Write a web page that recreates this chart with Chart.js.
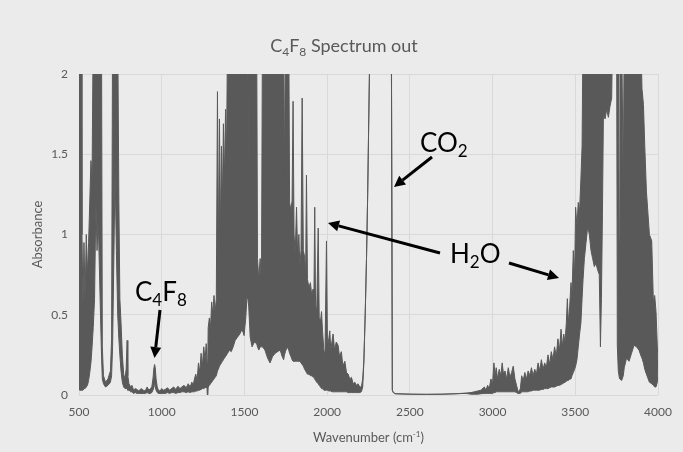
<!DOCTYPE html>
<html>
<head>
<meta charset="utf-8">
<title>C4F8 Spectrum out</title>
<script src="https://cdn.jsdelivr.net/npm/chart.js@4.4.0/dist/chart.umd.min.js"></script>
<style>
  html, body { margin: 0; padding: 0; background: #ffffff; }
  #wrap { width: 683px; height: 452px; }
</style>
</head>
<body>
<div id="wrap"><canvas id="spectrumChart" width="683" height="452"></canvas></div>
<script>
// x ticks and y ticks
const xTicks = [500, 1000, 1500, 2000, 2500, 3000, 3500, 4000];
const yTicks = [0, 0.5, 1, 1.5, 2];

// spectrum: for each wavenumber the top and the bottom of the trace
// (the trace is so dense there that it reads as a band; values above 2 are off scale)
const wavenumber = [
  500, 506, 513, 518, 524, 530, 537, 544, 551, 558, 565, 572, 579, 586, 594, 602, 609, 616, 623, 630, 636, 641, 648, 660, 675, 690, 697,
  703, 710, 718, 726, 734, 741, 747, 754, 762, 770, 778, 785, 791, 795, 802,
  812, 820, 830, 840, 850, 862, 875, 888, 900, 912, 922, 932, 940, 947, 953, 957, 961, 966, 973, 980, 990,
  1000, 1010, 1022, 1035, 1048, 1060, 1072, 1085, 1098, 1110, 1122, 1135, 1148, 1160, 1172, 1182, 1190,
  1198, 1206, 1214, 1222, 1230, 1238, 1246, 1254, 1262, 1269, 1274, 1277, 1281, 1288, 1295, 1302, 1309, 1316, 1323, 1330,
  1337, 1342, 1349, 1355, 1361, 1367, 1373, 1379, 1386, 1392, 1398, 1410, 1420, 1432, 1444, 1458, 1472, 1486, 1498,
  1508, 1516, 1521, 1526, 1535, 1546, 1560, 1574, 1579, 1587, 1595, 1603, 1609, 1624, 1640, 1655, 1670, 1686, 1700,
  1716, 1728, 1737, 1742, 1748, 1758, 1768, 1773, 1781, 1788, 1794, 1800, 1807, 1815, 1822, 1829, 1835, 1842, 1849,
  1856, 1864, 1870, 1875, 1881, 1890, 1899, 1907, 1915, 1920, 1925, 1930, 1937, 1946, 1952, 1960, 1966, 1972, 1980,
  1987, 1996, 2002, 2010, 2016, 2022, 2030, 2036, 2045, 2055, 2066, 2075, 2086, 2095, 2107, 2117, 2127, 2137, 2147,
  2157, 2167, 2177, 2187, 2197, 2207, 2215, 2222, 2230, 2238, 2245, 2252, 2260, 2388, 2392, 2394, 2400, 2412,
  2500, 2600, 2700, 2780, 2840, 2870, 2890, 2910, 2930, 2950, 2960, 2970, 2980, 2990, 3000, 3008, 3015, 3022, 3030,
  3040, 3050, 3058, 3066, 3075, 3085, 3095, 3105, 3115, 3125, 3135, 3145, 3152, 3160, 3168, 3176, 3185, 3195, 3205,
  3215, 3225, 3235, 3245, 3255, 3265, 3275, 3285, 3295, 3305, 3315, 3325, 3335, 3345, 3355, 3365, 3375, 3385, 3395,
  3405, 3414, 3422, 3430, 3438, 3446, 3452, 3458, 3466, 3474, 3480, 3488, 3496, 3502, 3510, 3518, 3526, 3534, 3541,
  3547, 3555, 3565, 3575, 3585, 3595, 3605, 3615, 3625, 3635, 3645, 3652, 3658, 3664, 3670, 3680, 3690, 3700, 3710,
  3720, 3726, 3750, 3754, 3760, 3766, 3770, 3780, 3790, 3796, 3810, 3825, 3840, 3855, 3870, 3885, 3895, 3903, 3912,
  3920, 3930, 3948, 3962, 3972, 3980, 3988, 3996, 4000
];
const absTop = [
  2.3, 2.3, 2.3, 1.0, 0.55, 0.95, 0.6, 1.0, 0.75, 0.95, 1.2, 1.46, 1.35, 2.3, 2.3, 2.3, 2.3, 2.3, 2.3, 2.3, 2.3, 0.3, 0.12, 0.08, 0.1, 0.15, 0.35,
  2.3, 2.3, 2.3, 2.3, 2.3, 1.2, 0.6, 0.45, 0.25, 0.13, 0.1, 0.16, 0.34, 0.12, 0.07,
  0.05, 0.06, 0.03, 0.04, 0.035, 0.025, 0.04, 0.03, 0.025, 0.05, 0.03, 0.04, 0.05, 0.1, 0.17, 0.19, 0.17, 0.1, 0.05, 0.03, 0.025,
  0.04, 0.03, 0.035, 0.045, 0.03, 0.04, 0.05, 0.035, 0.055, 0.04, 0.05, 0.06, 0.045, 0.07, 0.05, 0.08, 0.06,
  0.1, 0.13, 0.09, 0.2, 0.14, 0.26, 0.18, 0.3, 0.22, 0.32, 0.2, 0.1, 0.42, 0.48, 0.42, 0.58, 0.5, 0.62, 0.52, 0.6,
  1.89, 0.85, 1.72, 1.0, 1.55, 1.2, 1.69, 1.35, 1.78, 1.5, 2.3, 2.3, 2.3, 2.3, 2.3, 2.3, 2.3, 2.3, 2.3,
  2.3, 2.3, 1.1, 2.3, 2.3, 2.3, 2.3, 2.3, 0.85, 0.72, 0.85, 0.7, 2.3, 2.3, 2.3, 2.3, 2.3, 2.3, 2.3,
  2.3, 2.3, 2.3, 1.35, 2.3, 2.3, 2.3, 1.2, 1.15, 1.21, 1.83, 1.0, 0.88, 1.17, 0.85, 1.0, 0.8, 0.9, 1.85,
  0.9, 0.86, 0.75, 1.37, 0.72, 0.67, 0.7, 0.62, 0.66, 0.6, 1.17, 0.56, 0.52, 1.04, 0.48, 0.46, 0.52, 0.4, 0.28,
  0.25, 0.96, 0.3, 0.35, 0.4, 0.28, 0.34, 0.38, 0.28, 0.33, 0.31, 0.24, 0.27, 0.18, 0.21, 0.14, 0.13, 0.1, 0.11,
  0.07, 0.08, 0.06, 0.07, 0.05, 0.05, 0.1, 0.22, 0.5, 0.85, 1.25, 1.75, 2.3, 2.3, 2.3, 0.03, 0.015, 0.008,
  0.005, 0.004, 0.005, 0.008, 0.012, 0.015, 0.02, 0.025, 0.03, 0.05, 0.03, 0.06, 0.04, 0.1, 0.07, 0.2, 0.12, 0.17, 0.1,
  0.16, 0.12, 0.2, 0.13, 0.15, 0.1, 0.17, 0.11, 0.14, 0.18, 0.1, 0.06, 0.03, 0.02, 0.04, 0.12, 0.09, 0.14, 0.1,
  0.15, 0.12, 0.17, 0.12, 0.16, 0.13, 0.2, 0.15, 0.22, 0.16, 0.2, 0.17, 0.25, 0.19, 0.27, 0.22, 0.3, 0.24, 0.35,
  0.28, 0.41, 0.3, 0.38, 0.33, 0.45, 0.6, 0.45, 0.55, 0.7, 0.62, 0.9, 0.75, 1.17, 1.05, 1.2, 1.15, 1.35, 1.55,
  2.3, 2.3, 2.3, 2.3, 2.3, 2.3, 2.3, 2.3, 2.3, 2.3, 2.3, 2.3, 2.3, 2.3, 2.3, 2.3, 2.3, 2.3, 2.3,
  2.3, 2.3, 2.3, 2.3, 2.3, 0.96, 2.3, 2.3, 1.3, 2.3, 2.3, 2.3, 2.3, 2.3, 2.3, 2.3, 2.3, 1.91, 1.81,
  1.55, 1.27, 1.0, 0.96, 0.58, 0.62, 0.52, 0.3, 0.21
];
const absBottom = [
  0.05, 0.03, 0.03, 0.03, 0.03, 0.04, 0.04, 0.05, 0.06, 0.09, 0.14, 0.2, 0.3, 0.42, 0.6, 1.2, 0.9, 1.1, 0.8, 0.5, 0.25, 0.1, 0.07, 0.05, 0.06, 0.08, 0.12,
  0.3, 0.8, 1.4, 0.9, 0.5, 0.35, 0.25, 0.15, 0.08, 0.05, 0.04, 0.04, 0.04, 0.03, 0.03,
  0.02, 0.02, 0.01, 0.015, 0.01, 0.01, 0.01, 0.01, 0.01, 0.015, 0.01, 0.01, 0.015, 0.03, 0.05, 0.08, 0.05, 0.03, 0.015, 0.01, 0.01,
  0.01, 0.01, 0.01, 0.015, 0.01, 0.015, 0.015, 0.01, 0.015, 0.015, 0.02, 0.02, 0.015, 0.02, 0.015, 0.02, 0.02,
  0.02, 0.025, 0.025, 0.03, 0.03, 0.035, 0.04, 0.04, 0.045, 0.05, 0.04, -0.03, 0.05, 0.06, 0.07, 0.08, 0.09, 0.1, 0.11, 0.12,
  0.15, 0.16, 0.18, 0.19, 0.2, 0.21, 0.22, 0.23, 0.24, 0.25, 0.26, 0.28, 0.27, 0.3, 0.34, 0.36, 0.38, 0.41, 0.37,
  0.48, 0.62, 0.6, 0.55, 0.36, 0.3, 0.33, 0.32, 0.3, 0.28, 0.3, 0.3, 0.3, 0.28, 0.23, 0.2, 0.24, 0.26, 0.27,
  0.28, 0.24, 0.22, 0.25, 0.27, 0.3, 0.28, 0.26, 0.24, 0.22, 0.21, 0.21, 0.21, 0.21, 0.21, 0.21, 0.21, 0.2, 0.19,
  0.18, 0.16, 0.15, 0.14, 0.13, 0.13, 0.12, 0.12, 0.11, 0.11, 0.1, 0.09, 0.08, 0.07, 0.06, 0.05, 0.04, 0.04, 0.03,
  0.03, 0.03, 0.03, 0.025, 0.025, 0.025, 0.02, 0.02, 0.02, 0.02, 0.02, 0.02, 0.02, 0.02, 0.02, 0.02, 0.015, 0.015, 0.015,
  0.015, 0.015, 0.015, 0.015, 0.015, 0.02, 0.05, 0.2, 0.5, 0.85, 1.25, 1.75, 2.3, 2.3, 2.3, 0.03, 0.015, 0.008,
  0.005, 0.004, 0.005, 0.008, 0.01, 0.005, 0.005, 0.005, 0.008, 0.01, 0.01, 0.01, 0.01, 0.01, 0.01, 0.015, 0.015, 0.02, 0.02,
  0.02, 0.02, 0.02, 0.02, 0.02, 0.02, 0.02, 0.02, 0.02, 0.02, 0.02, 0.015, 0.01, 0.01, 0.01, 0.02, 0.02, 0.02, 0.02,
  0.02, 0.025, 0.025, 0.03, 0.03, 0.03, 0.03, 0.03, 0.035, 0.035, 0.04, 0.04, 0.04, 0.045, 0.05, 0.05, 0.05, 0.055, 0.06,
  0.06, 0.065, 0.07, 0.075, 0.08, 0.085, 0.09, 0.09, 0.1, 0.1, 0.12, 0.14, 0.16, 0.18, 0.22, 0.3, 0.38, 0.45, 0.6,
  0.72, 0.85, 0.95, 1.05, 1.0, 0.9, 0.85, 0.8, 0.82, 0.78, 0.75, 0.3, 0.6, 1.12, 1.75, 1.72, 1.78, 1.73, 1.8,
  1.85, 2.3, 2.3, 0.31, 0.15, 0.11, 0.1, 0.09, 0.12, 0.17, 0.23, 0.21, 0.26, 0.31, 0.3, 0.28, 0.25, 0.23, 0.2,
  0.16, 0.13, 0.08, 0.07, 0.06, 0.05, 0.05, 0.08, 0.17
];

const traceColor = '#595959';
const textGray = '#595959';
const fontFamily = 'Lato, "Liberation Sans", sans-serif';

// draw a run of text pieces; kind 0 normal, 1 subscript, 2 superscript
function drawRichText(ctx, pieces, x, y, size, color, align) {
  const small = Math.round(size * 0.65);
  let total = 0;
  pieces.forEach(p => {
    ctx.font = (p[1] ? small : size) + 'px ' + fontFamily;
    total += ctx.measureText(p[0]).width;
  });
  let cx = align === 'center' ? x - total / 2 : x;
  ctx.fillStyle = color;
  ctx.textBaseline = 'alphabetic';
  ctx.textAlign = 'left';
  pieces.forEach(p => {
    ctx.font = (p[1] ? small : size) + 'px ' + fontFamily;
    let dy = 0;
    if (p[1] === 1) dy = size * 0.2;
    if (p[1] === 2) dy = -size * 0.38;
    ctx.fillText(p[0], cx, y + dy);
    cx += ctx.measureText(p[0]).width;
  });
}

function drawArrow(ctx, x1, y1, x2, y2) {
  const ang = Math.atan2(y2 - y1, x2 - x1);
  const headLen = 11, headW = 5.5;
  const bx = x2 - headLen * Math.cos(ang), by = y2 - headLen * Math.sin(ang);
  ctx.strokeStyle = '#000';
  ctx.fillStyle = '#000';
  ctx.lineWidth = 3;
  ctx.beginPath();
  ctx.moveTo(x1, y1);
  ctx.lineTo(bx, by);
  ctx.stroke();
  ctx.beginPath();
  ctx.moveTo(x2, y2);
  ctx.lineTo(bx + headW * Math.sin(ang), by - headW * Math.cos(ang));
  ctx.lineTo(bx - headW * Math.sin(ang), by + headW * Math.cos(ang));
  ctx.closePath();
  ctx.fill();
}

const chartDecor = {
  id: 'chartDecor',
  beforeDraw(chart) {
    const ctx = chart.ctx;
    ctx.save();
    ctx.fillStyle = '#ebebeb';
    ctx.fillRect(0, 0, chart.width, chart.height);
    ctx.restore();
  },
  afterDraw(chart) {
    const ctx = chart.ctx;
    const area = chart.chartArea;
    ctx.save();
    // chart title
    drawRichText(ctx, [['C', 0], ['4', 1], ['F', 0], ['8', 1], [' Spectrum out', 0]], 344, 52, 18, textGray, 'center');
    // axis titles
    drawRichText(ctx, [['Wavenumber (cm', 0], ['-1', 2], [')', 0]], (area.left + area.right) / 2, 442, 13, textGray, 'center');
    ctx.save();
    ctx.translate(38, (area.top + area.bottom) / 2);
    ctx.rotate(-Math.PI / 2);
    ctx.font = '13px ' + fontFamily;
    ctx.fillStyle = textGray;
    ctx.textAlign = 'center';
    ctx.textBaseline = 'middle';
    ctx.fillText('Absorbance', 0, 0);
    ctx.restore();

    // labels pointing at the bands
    drawRichText(ctx, [['C', 0], ['4', 1], ['F', 0], ['8', 1]], 135, 301, 26, '#000', 'left');
    drawArrow(ctx, 160, 310, 154.5, 358);
    drawRichText(ctx, [['CO', 0], ['2', 1]], 420, 152, 26, '#000', 'left');
    drawArrow(ctx, 432, 157, 394, 187);
    drawRichText(ctx, [['H', 0], ['2', 1], ['O', 0]], 450, 263, 26, '#000', 'left');
    drawArrow(ctx, 440, 253, 328, 223);
    drawArrow(ctx, 509, 263, 559, 278);
    ctx.restore();
  }
};

const topPoints = wavenumber.map((w, i) => ({ x: w, y: absTop[i] }));
const bottomPoints = wavenumber.map((w, i) => ({ x: w, y: absBottom[i] }));

new Chart(document.getElementById('spectrumChart'), {
  type: 'line',
  data: {
    datasets: [
      {
        label: 'top',
        data: topPoints,
        borderColor: traceColor,
        backgroundColor: traceColor,
        borderWidth: 1,
        borderJoinStyle: 'bevel',
        pointRadius: 0,
        tension: 0,
        fill: '+1'
      },
      {
        label: 'bottom',
        data: bottomPoints,
        borderColor: traceColor,
        borderWidth: 1,
        borderJoinStyle: 'bevel',
        pointRadius: 0,
        tension: 0,
        fill: false
      }
    ]
  },
  options: {
    responsive: false,
    animation: false,
    devicePixelRatio: 1,
    layout: { padding: { top: 74, right: 25, bottom: 0, left: 0 } },
    plugins: {
      legend: { display: false },
      title: { display: false },
      tooltip: { enabled: false }
    },
    scales: {
      x: {
        type: 'linear',
        min: xTicks[0],
        max: xTicks[xTicks.length - 1],
        afterBuildTicks: s => { s.ticks = xTicks.map(v => ({ value: v })); },
        afterFit: s => { s.height = 57; },
        grid: { color: '#d9d9d9', lineWidth: 1, drawTicks: false },
        border: { display: false },
        ticks: {
          padding: 10,
          color: textGray,
          font: { family: fontFamily, size: 12 },
          maxRotation: 0,
          callback: v => String(v)
        }
      },
      y: {
        min: yTicks[0],
        max: yTicks[yTicks.length - 1],
        afterBuildTicks: s => { s.ticks = yTicks.map(v => ({ value: v })); },
        afterFit: s => { s.width = 79; },
        grid: { color: '#d9d9d9', lineWidth: 1, drawTicks: false },
        border: { display: false },
        ticks: {
          padding: 11,
          color: textGray,
          font: { family: fontFamily, size: 12 },
          callback: v => String(v)
        }
      }
    }
  },
  plugins: [chartDecor]
});
</script>
</body>
</html>
